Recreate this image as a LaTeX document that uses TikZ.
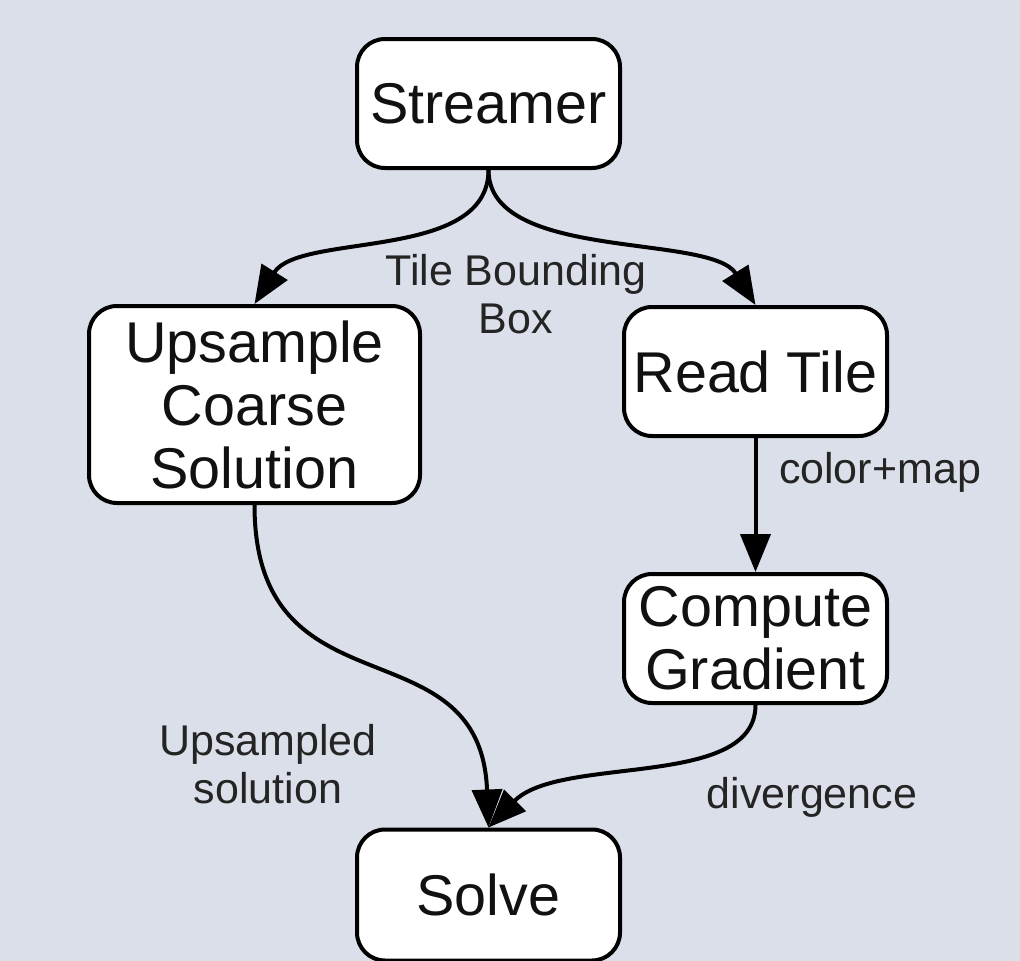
\documentclass[tikz,border=0pt]{standalone}
\usepackage{fontspec}
\setmainfont{Liberation Sans}
\usetikzlibrary{arrows.meta}
\definecolor{bgc}{HTML}{DBDFEA}
\definecolor{txt}{HTML}{111111}
\tikzset{
  box/.style={draw=black, fill=white, line width=4pt, rounded corners=28pt,
    minimum width=263pt, minimum height=129pt, inner sep=0pt, align=center,
    text=txt, font=\fontsize{57.5}{63}\selectfont},
  lbl/.style={align=center, inner sep=0pt, text=txt!92!white, font=\fontsize{43}{48}\selectfont},
  arr/.style={line width=4pt, -{Triangle[length=38pt,width=30pt]}}
}
\begin{document}
\begin{tikzpicture}[x=1pt,y=-1pt]
\fill[bgc] (0,0) rectangle (1020,961);
\useasboundingbox (0,0) rectangle (1020,961);
\node[box] (s) at (488.5,103.5) {Streamer};
\node[box, minimum width=331pt, minimum height=197pt] (u) at (254.5,404.5) {Upsample\\Coarse\\Solution};
\node[box] (r) at (755.5,371.5) {Read Tile};
\node[box] (c) at (755.5,638.5) {Compute\\Gradient};
\node[box, minimum height=131pt] (v) at (488.5,895) {Solve};
\draw[arr] (s.south) .. controls +(0,92) and +(45,-72) .. (u.north);
\draw[arr] (s.south) .. controls +(0,92) and +(-45,-72) .. (r.north);
\draw[arr] (r.south) -- (c.north);
\draw[arr] (u.south) .. controls +(0,215) and +(-8,-208) .. (v.north);
\draw[arr] (c.south) .. controls +(0,85) and +(71.5,-73) .. (v.north);
\node[lbl] (l1) at (516,294) {Tile Bounding\\Box};
\node[lbl] (l2) at (880,472) {color+map};
\node[lbl] (l3) at (268,764) {Upsampled\\solution};
\node[lbl] (l4) at (812,797) {divergence};
\end{tikzpicture}
\end{document}
